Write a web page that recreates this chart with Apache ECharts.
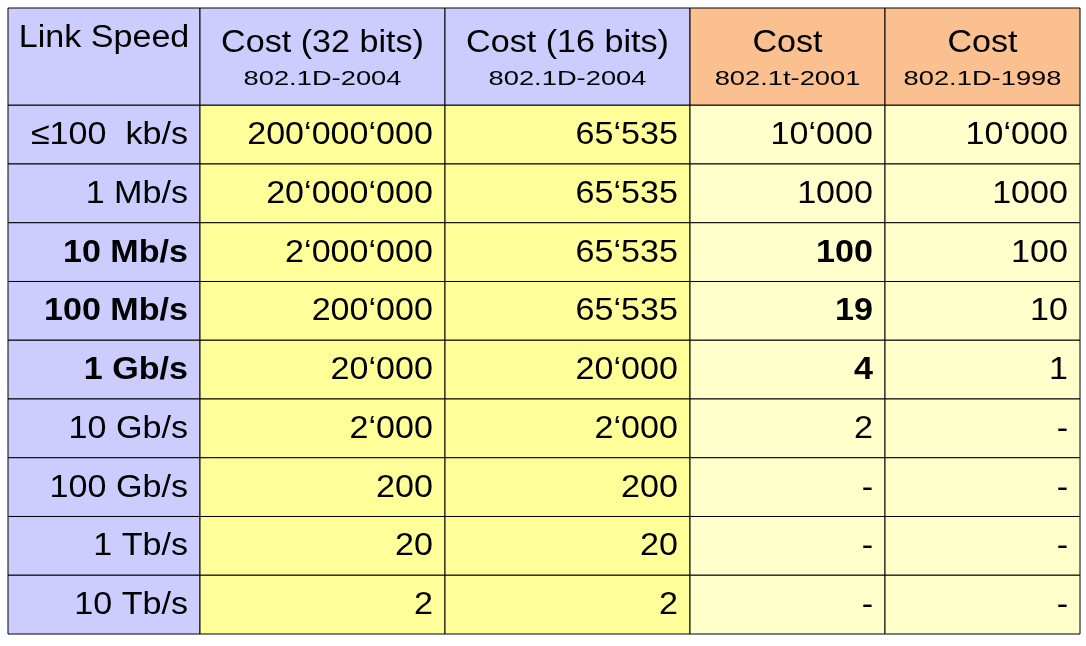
<!DOCTYPE html>
<html lang="en">
<head>
<meta charset="UTF-8">
<title>STP cost table</title>
<script src="https://cdn.jsdelivr.net/npm/echarts@6/dist/echarts.min.js"></script>
<style>html,body{margin:0;background:#fff}#main{width:1086px;height:646px}</style>
</head>
<body>
<div id="main"></div>
<script type="text/javascript">
    var headers = ['Link Speed', 'Cost (32 bits)', 'Cost (16 bits)', 'Cost', 'Cost'];
    var subHeaders = ['', '802.1D-2004', '802.1D-2004', '802.1t-2001', '802.1D-1998'];
    var speeds = ['≤100  kb/s', '1 Mb/s', '10 Mb/s', '100 Mb/s', '1 Gb/s', '10 Gb/s', '100 Gb/s', '1 Tb/s', '10 Tb/s'];
    var cost32 = ['200‘000‘000', '20‘000‘000', '2‘000‘000', '200‘000', '20‘000', '2‘000', '200', '20', '2'];
    var cost16 = ['65‘535', '65‘535', '65‘535', '65‘535', '20‘000', '2‘000', '200', '20', '2'];
    var cost1t = ['10‘000', '1000', '100', '19', '4', '2', '-', '-', '-'];
    var cost1998 = ['10‘000', '1000', '100', '10', '1', '-', '-', '-', '-'];
    var boldSpeed = [2, 3, 4];
    var bold1t = [2, 3, 4];

    // layout (relative units)
    var colW = [192, 245, 245, 195, 195];
    var headH = 97, rowH = 58.6;
    var colX = [0];
    colW.forEach(function (w, i) { colX.push(colX[i] + w); });

    var columns = [speeds, cost32, cost16, cost1t, cost1998];
    var cells = [];
    headers.forEach(function (h, c) { cells.push([c, -1]); });
    speeds.forEach(function (s, r) {
        for (var c = 0; c < 5; c++) cells.push([c, r]);
    });

    function fillOf(c, r) {
        if (r < 0) return c < 3 ? '#ccccff' : '#fac090';
        if (c === 0) return '#ccccff';
        if (c < 3) return '#ffff99';
        return '#ffffcc';
    }

    function label(txt, x, y, align, font, sx) {
        return {
            type: 'text', x: x, y: y, scaleX: sx, scaleY: 1,
            style: {text: txt, x: 0, y: 0, align: align, verticalAlign: 'middle', font: font, fill: '#000'}
        };
    }

    var chart = echarts.init(document.getElementById('main'));
    chart.setOption({
        animation: false,
        grid: {left: 8, right: 6, top: 8, bottom: 12},
        xAxis: {type: 'value', min: 0, max: colX[5], show: false},
        yAxis: {type: 'value', min: 0, max: headH + rowH * speeds.length, inverse: true, show: false},
        series: [{
            type: 'custom',
            data: cells,
            renderItem: function (params, api) {
                var c = api.value(0), r = api.value(1);
                var y0 = r < 0 ? 0 : headH + r * rowH;
                var y1 = r < 0 ? headH : y0 + rowH;
                var p0 = api.coord([colX[c], y0]);
                var p1 = api.coord([colX[c + 1], y1]);
                var w = p1[0] - p0[0], h = p1[1] - p0[1];
                var children = [{
                    type: 'rect',
                    shape: {x: p0[0], y: p0[1], width: w, height: h},
                    style: {fill: fillOf(c, r), stroke: '#000', lineWidth: 1}
                }];
                if (r < 0) {
                    var hasSub = subHeaders[c] !== '';
                    children.push(label(headers[c], p0[0] + w / 2, p0[1] + (hasSub ? 35 : 30),
                        'center', '31px "Liberation Sans", Arial', 1.1));
                    if (hasSub) children.push(label(subHeaders[c], p0[0] + w / 2, p0[1] + 71,
                        'center', '21px "Liberation Sans", Arial', 1.3));
                } else {
                    var bold = (c === 0 && boldSpeed.indexOf(r) >= 0) || (c === 3 && bold1t.indexOf(r) >= 0);
                    children.push(label(columns[c][r], p1[0] - 12, p0[1] + h / 2 + 1,
                        'right', (bold ? 'bold ' : '') + '31px "Liberation Sans", Arial', 1.1));
                }
                return {type: 'group', children: children};
            }
        }]
    });
</script>
</body>
</html>
